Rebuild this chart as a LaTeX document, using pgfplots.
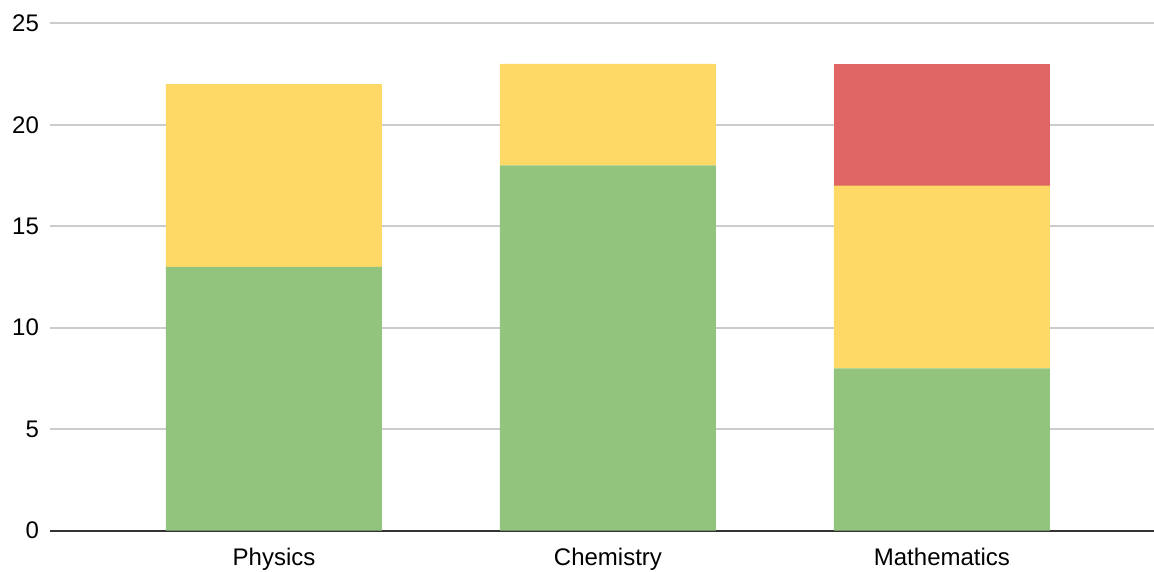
\documentclass[border=0pt]{standalone}
\usepackage{fontspec}
\setmainfont{Liberation Sans}
\usepackage{pgfplots}
\pgfplotsset{compat=1.18}
\usetikzlibrary{calc}

\definecolor{barGreen}{HTML}{93C47D}
\definecolor{barYellow}{HTML}{FFD966}
\definecolor{barRed}{HTML}{E06666}
\definecolor{gridGray}{HTML}{CCCCCC}
\definecolor{axisGray}{HTML}{333333}

\begin{document}
\begin{tikzpicture}
  \begin{axis}[
      scale only axis,
      width=552pt, height=253.7pt,
      ybar stacked,
      bar width=108pt,
      xmin=-0.6707, xmax=2.635,
      ymin=0, ymax=25,
      xtick={0,1,2},
      xticklabels={Physics, Chemistry, Mathematics},
      ytick={0,5,10,15,20,25},
      ymajorgrids,
      grid style={gridGray, line width=0.8pt},
      axis x line*=bottom,
      axis y line*=left,
      x axis line style={axisGray, line width=1pt, -},
      y axis line style={draw=none},
      major tick length=0pt,
      tick label style={font=\fontsize{12}{14}\selectfont, text=black},
      /pgf/number format/assume math mode=true,
      xticklabel style={yshift=-5pt},
      yticklabel style={xshift=-2pt},
      every axis plot/.append style={draw=none},
    ]
    \addplot[fill=barGreen] coordinates {(0,13) (1,18) (2,8)};
    \addplot[fill=barYellow] coordinates {(0,9) (1,5) (2,9)};
    \addplot[fill=barRed] coordinates {(0,0) (1,0) (2,6)};
    \draw[axisGray, line width=1pt] (axis cs:-0.6707,0) -- (axis cs:2.635,0);
  \end{axis}
  \pgfresetboundingbox
  \path ($(current axis.south west)+(-25pt,-20.65pt)$) rectangle ($(current axis.north east)+(0,11.65pt)$);
\end{tikzpicture}
\end{document}
